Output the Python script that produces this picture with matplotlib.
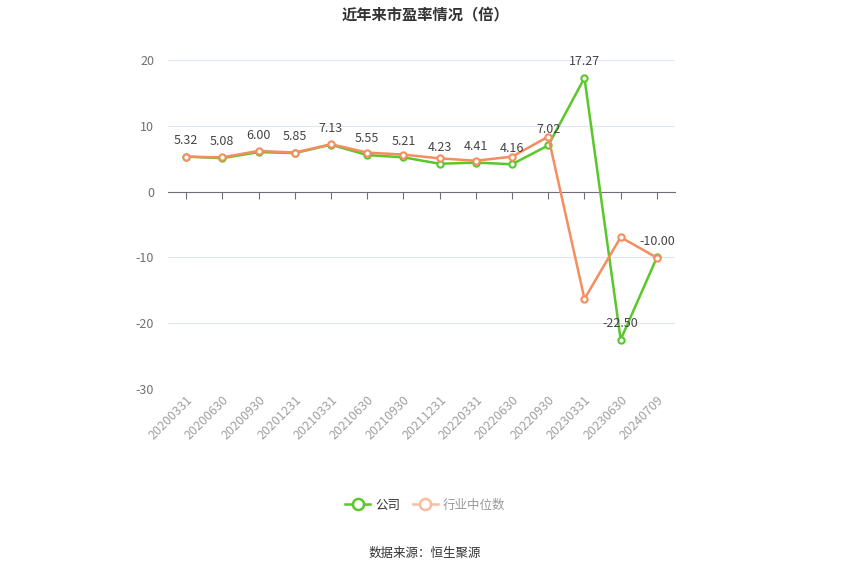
import matplotlib
matplotlib.use("Agg")
import matplotlib.pyplot as plt
from matplotlib.lines import Line2D

plt.rcParams['font.family'] = ['Noto Sans CJK SC', 'DejaVu Sans']
plt.rcParams['axes.unicode_minus'] = False

dates = ["20200331", "20200630", "20200930", "20201231", "20210331", "20210630",
         "20210930", "20211231", "20220331", "20220630", "20220930", "20230331",
         "20230630", "20240709"]
company = [5.32, 5.08, 6.00, 5.85, 7.13, 5.55, 5.21, 4.23, 4.41, 4.16, 7.02, 17.27, -22.50, -10.00]
industry = [5.31, 5.2, 6.19, 5.93, 7.2, 5.93, 5.62, 5.05, 4.69, 5.31, 8.35, -16.3, -6.93, -10.05]
yticks = [-30, -20, -10, 0, 10, 20]

green = "#5ac72a"
orange = "#f58d5e"

fig = plt.figure(figsize=(8.5, 5.75), dpi=100)
ax = fig.add_axes([168/850, 1-389/575, (675-168)/850, (389-60)/575])

x = list(range(len(dates)))
ax.plot(x, company, color=green, lw=1.8, marker='o', ms=4.5, mfc='white', mec=green, mew=1.5, zorder=3)
ax.plot(x, industry, color=orange, lw=1.8, marker='o', ms=4.5, mfc='white', mec=orange, mew=1.5, zorder=4)

for xi, v in zip(x, company):
    ax.annotate(f"{v:.2f}", (xi, v), xytext=(0, 7), textcoords='offset points',
                ha='center', va='bottom', fontsize=9, color='#444444', zorder=5)

ax.set_xlim(-0.5, len(dates) - 0.5)
ax.set_ylim(-30, 20)
ax.set_yticks(yticks)
ax.grid(axis='y', color='#e0e6f1', lw=0.8)
ax.set_axisbelow(True)
for s in ['top', 'right', 'left']:
    ax.spines[s].set_visible(False)
ax.spines['bottom'].set_position(('data', 0))
ax.spines['bottom'].set_color('#6e7079')
ax.set_xticks(x)
ax.tick_params(axis='x', direction='out', length=5, color='#6e7079', labelbottom=False)
ax.tick_params(axis='y', length=0, labelsize=9, labelcolor='#6e7079', pad=10)

sec = ax.secondary_xaxis('bottom')
sec.set_xticks(x)
sec.set_xticklabels(dates, rotation=45, ha='right', va='top', rotation_mode='anchor')
sec.tick_params(length=0, labelsize=9, labelcolor='#a0a0a0', pad=3)
sec.spines['bottom'].set_visible(False)

fig.text(0.5, 1-14/575, "近年来市盈率情况（倍）", ha='center', va='center',
         fontsize=11, fontweight='bold', color='#333333')

h1 = Line2D([0], [0], color=green, lw=1.8, marker='o', ms=8, mfc='white', mec=green, mew=1.8)
h2 = Line2D([0], [0], color='#f9bca1', lw=1.8, marker='o', ms=8, mfc='white', mec='#f9bca1', mew=1.8)
leg = fig.legend([h1, h2], ["公司", "行业中位数"], loc='center', bbox_to_anchor=(0.5, 1-505/575),
                 ncol=2, frameon=False, fontsize=9, handlelength=2.0, columnspacing=1.0, handletextpad=0.4)
leg.get_texts()[0].set_color('#333333')
leg.get_texts()[1].set_color('#999999')

fig.text(0.5, 1-553/575, "数据来源：恒生聚源", ha='center', va='center', fontsize=9, color='#333333')

fig.savefig("out.png", dpi=100)
